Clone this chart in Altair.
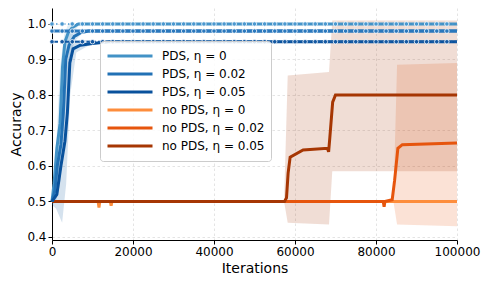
import altair as alt
import pandas as pd

# ---------------- data ----------------
series = ["PDS, η = 0", "PDS, η = 0.02", "PDS, η = 0.05",
          "no PDS, η = 0", "no PDS, η = 0.02", "no PDS, η = 0.05"]
colors = ["#4292c6", "#2171b5", "#08519c", "#fd8d3c", "#e6550d", "#a63603"]

# mean curves
pds0_x = [0, 500, 1200, 2000, 2600, 3200, 4000, 5000, 6500, 100000]
pds0_y = [0.5, 0.55, 0.65, 0.72, 0.88, 0.95, 0.975, 0.99, 1.0, 1.0]
pds2_x = [0, 700, 1300, 2200, 2800, 3400, 4200, 5500, 7000, 9000, 100000]
pds2_y = [0.5, 0.53, 0.6, 0.66, 0.75, 0.9, 0.94, 0.965, 0.975, 0.98, 0.98]
pds5_x = [0, 1200, 2200, 3200, 3800, 4400, 5200, 7000, 10000, 14000, 100000]
pds5_y = [0.5, 0.52, 0.6, 0.67, 0.75, 0.89, 0.93, 0.94, 0.945, 0.95, 0.95]
no0_x = [0, 11400, 11600, 11800, 14400, 14600, 14800, 100000]
no0_y = [0.5, 0.5, 0.483, 0.5, 0.5, 0.488, 0.5, 0.5]
no2_x = [0, 81800, 82000, 82200, 84000, 84600, 85400, 86500, 100000]
no2_y = [0.5, 0.5, 0.485, 0.5, 0.505, 0.56, 0.65, 0.66, 0.665]
no5_x = [0, 57400, 57900, 58300, 58800, 62000, 68000, 68300, 68600, 69300, 70000, 100000]
no5_y = [0.5, 0.5, 0.51, 0.58, 0.625, 0.645, 0.65, 0.64, 0.68, 0.78, 0.80, 0.80]

# spread bands
pds0_bx = [0, 1000, 2000, 3000, 4000, 5500, 7000]
pds0_lo = [0.49, 0.52, 0.62, 0.8, 0.93, 0.98, 1.0]
pds0_hi = [0.51, 0.65, 0.88, 0.97, 1.0, 1.0, 1.0]
pds2_bx = [0, 1000, 2000, 3000, 4000, 5500, 8000]
pds2_lo = [0.49, 0.5, 0.55, 0.7, 0.88, 0.95, 0.98]
pds2_hi = [0.51, 0.62, 0.8, 0.93, 0.97, 0.98, 0.98]
pds5_bx = [0, 1000, 2500, 3500, 4500, 6000, 10000]
pds5_lo = [0.49, 0.48, 0.44, 0.55, 0.8, 0.92, 0.945]
pds5_hi = [0.51, 0.56, 0.7, 0.86, 0.95, 0.955, 0.955]
no2_bx = [0, 84300, 85200, 100000]
no2_lo = [0.5, 0.5, 0.435, 0.43]
no2_hi = [0.5, 0.5, 0.885, 0.89]
no5_bx = [0, 57300, 58200, 68400, 69200, 100000]
no5_lo = [0.5, 0.5, 0.44, 0.435, 0.585, 0.585]
no5_hi = [0.5, 0.5, 0.855, 0.865, 1.01, 1.01]

# reference levels (marked lines)
ref_levels = [1.0, 0.98, 0.95]
ref_colors = ["#4a98d0", "#2a78bd", "#1459a3"]
ref_dash = [[1.5, 2.5], [1, 0], [6, 2, 1.5, 2]]
ref_width = [1.5, 3, 2]
marker_x = list(range(0, 100000, 2500))

x_ticks = [0, 20000, 40000, 60000, 80000, 100000]
y_ticks = [0.4, 0.5, 0.6, 0.7, 0.8, 0.9, 1.0]

# ---------------- frames ----------------
curves = [(pds0_x, pds0_y), (pds2_x, pds2_y), (pds5_x, pds5_y),
          (no0_x, no0_y), (no2_x, no2_y), (no5_x, no5_y)]
draw_order = [3, 4, 5, 0, 1, 2]
rows = []
for k, i in enumerate(draw_order):
    xs, ys = curves[i]
    for j, (xv, yv) in enumerate(zip(xs, ys)):
        rows.append({"series": series[i], "x": xv, "y": yv, "o": k * 100 + j})
lines_df = pd.DataFrame(rows)

bands = [(0, pds0_bx, pds0_lo, pds0_hi), (1, pds2_bx, pds2_lo, pds2_hi),
         (2, pds5_bx, pds5_lo, pds5_hi), (4, no2_bx, no2_lo, no2_hi),
         (5, no5_bx, no5_lo, no5_hi)]
brows = []
for i, xs, lo, hi in bands:
    for xv, l, h in zip(xs, lo, hi):
        brows.append({"bseries": series[i], "x": xv, "lo": l, "hi": h})
bands_df = pd.DataFrame(brows)

xscale = alt.Scale(domain=[0, 100000], nice=False, zero=False)
yscale = alt.Scale(domain=[0.3915, 1.045], nice=False, zero=False)


def xenc(field="x:Q"):
    return alt.X(field, scale=xscale,
                 axis=alt.Axis(values=x_ticks, title="Iterations", format="d",
                               labelFlush=False, labelOverlap=False))


def yenc(field):
    return alt.Y(field, scale=yscale,
                 axis=alt.Axis(values=y_ticks, title="Accuracy", format=".1f",
                               labelOverlap=False))


band_layer = alt.Chart(bands_df).mark_area(opacity=0.17).encode(
    x=xenc(),
    y=yenc("lo:Q"),
    y2="hi:Q",
    color=alt.Color("bseries:N", scale=alt.Scale(domain=series, range=colors), legend=None),
    detail="bseries:N",
)

line_layer = alt.Chart(lines_df).mark_line(strokeWidth=3).encode(
    x=xenc(),
    y=yenc("y:Q"),
    color=alt.Color(
        "series:N",
        scale=alt.Scale(domain=series, range=colors),
        sort=series,
        legend=alt.Legend(
            title=None, orient="none", legendX=48, legendY=33,
            symbolType="stroke", symbolSize=2025, symbolStrokeWidth=3,
            labelFontSize=12, labelFont="DejaVu Sans", labelColor="black",
            labelOffset=8, clipHeight=18, rowPadding=0, padding=6,
            strokeColor="#cccccc", cornerRadius=3, fillColor="rgba(255,255,255,0.85)",
        ),
    ),
    order="o:Q",
    detail="series:N",
)

layers = [band_layer, line_layer]
for lev, col, dash, w in zip(ref_levels, ref_colors, ref_dash, ref_width):
    rdf = pd.DataFrame({"x": [0, 100000], "y": [lev, lev]})
    mdf = pd.DataFrame({"x": marker_x, "y": [lev] * len(marker_x)})
    layers.append(alt.Chart(rdf).mark_line(color=col, strokeWidth=w, strokeDash=dash).encode(
        x=xenc(), y=yenc("y:Q")))
    layers.append(alt.Chart(mdf).mark_point(filled=True, fill=col, stroke="white",
                                            strokeWidth=0.8, size=20, opacity=1).encode(
        x=xenc(), y=yenc("y:Q")))

chart = alt.layer(*layers).resolve_scale(color="independent").properties(
    width=405, height=232,
    autosize=alt.AutoSizeParams(type="none"),
    padding={"left": 44, "top": 0, "right": 24, "bottom": 38},
).configure_view(stroke=None).configure_axis(
    labelFont="DejaVu Sans", titleFont="DejaVu Sans",
    labelFontSize=12, titleFontSize=14, titleFontWeight="normal",
    labelColor="black", titleColor="black",
    domainColor="black", tickColor="black", domainWidth=1, tickWidth=1, tickSize=4,
    labelPadding=2, gridColor="#dddddd", gridDash=[2.5, 2.5], gridWidth=0.8,
).configure_axisX(titlePadding=4).configure_axisY(titlePadding=3)

chart.save("out.html", embed_options={"renderer": "svg", "actions": False})
